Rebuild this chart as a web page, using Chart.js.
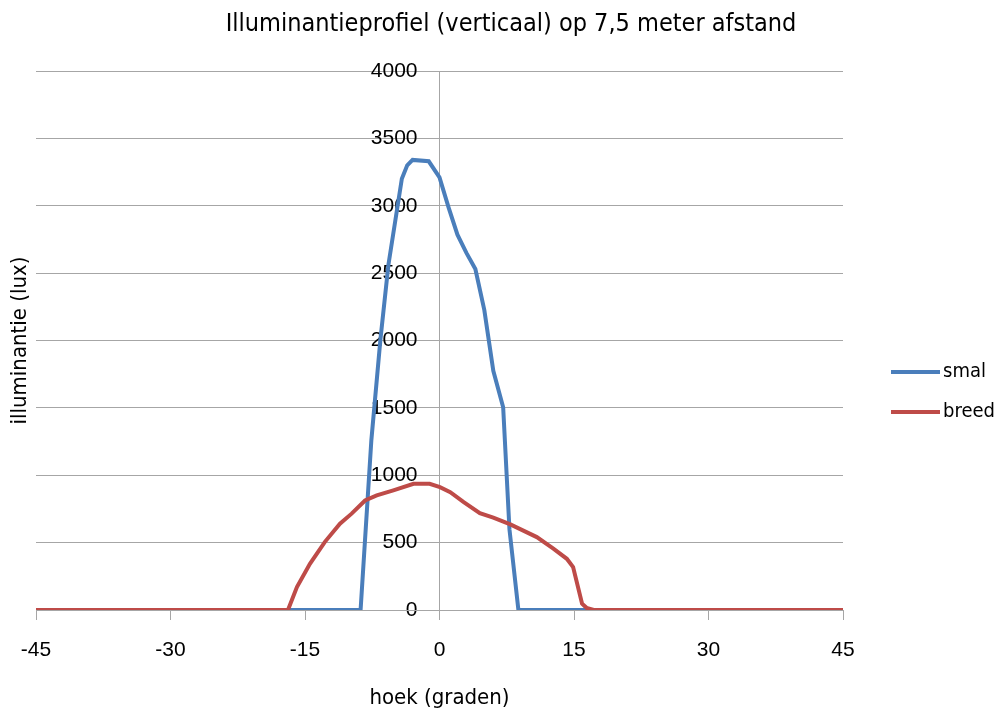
<!DOCTYPE html>
<html>
<head>
<meta charset="utf-8">
<title>Illuminantieprofiel</title>
<script src="https://cdn.jsdelivr.net/npm/chart.js@4/dist/chart.umd.min.js"></script>
<style>
  html, body { margin: 0; padding: 0; background: #fff; }
  #wrap { width: 1003px; height: 713px; }
</style>
</head>
<body>
<div id="wrap"><canvas id="chart" width="1003" height="713"></canvas></div>
<script>
// measured profile, angle in degrees vs. illuminance in lux
const smalAngles = [-45, -8.8, -7.6, -6.6, -5.7, -4.2, -3.6, -3.0, -1.2, 0, 1, 2, 3, 4, 5, 6, 7.1, 7.8, 8.8, 45];
const smalLux    = [0, 0, 1260, 2000, 2560, 3200, 3300, 3340, 3330, 3210, 2990, 2785, 2650, 2530, 2225, 1775, 1505, 600, 0, 0];

const breedAngles = [-45, -16.9, -15.9, -14.45, -12.8, -11.1, -9.8, -8.3, -7.0, -5.15, -2.9, -1.1, 0.05, 1.2, 2.7, 4.5, 6.0, 7.9, 10.85, 12.7, 14.2, 14.9, 15.9, 16.4, 17.2, 45];
const breedLux    = [0, 0, 170, 343, 504, 640, 715, 813, 850, 888, 937, 937, 912, 875, 801, 719, 685, 635, 541, 455, 380, 318, 46, 16, 0, 0];

const seriesNames = ["smal", "breed"];
const seriesColors = ["#4a7ebb", "#be4b48"];

const NARROW = "'Liberation Sans Narrow', 'DejaVu Sans Condensed', sans-serif";
const WIDE = "'Liberation Sans', Arial, sans-serif";
const GRID = "#a6a6a6";

const toPoints = (xs, ys) => xs.map((x, i) => ({ x: x, y: ys[i] }));

// legend block to the right of the plot
const legendPlugin = {
  id: "sideLegend",
  afterDraw(chart) {
    const ctx = chart.ctx;
    const area = chart.chartArea;
    ctx.save();
    chart.data.datasets.forEach((ds, i) => {
      const y = 372 + i * 40;
      ctx.strokeStyle = ds.borderColor;
      ctx.lineWidth = 4;
      ctx.beginPath();
      ctx.moveTo(area.right + 48, y);
      ctx.lineTo(area.right + 97, y);
      ctx.stroke();
      ctx.fillStyle = "#000";
      ctx.font = "20px " + NARROW;
      ctx.textAlign = "left";
      ctx.textBaseline = "middle";
      ctx.fillText(ds.label, area.right + 100, y);
    });
    ctx.restore();
  }
};

// empty side axes only hold the y title and the legend room
const spacerAxis = (position, width, title) => ({
  type: "linear",
  position: position,
  display: true,
  ticks: { display: false },
  grid: { display: false },
  border: { display: false },
  title: title,
  afterFit(scale) { scale.width = width; }
});

new Chart(document.getElementById("chart"), {
  type: "line",
  data: {
    datasets: [
      {
        label: seriesNames[0],
        data: toPoints(smalAngles, smalLux),
        borderColor: seriesColors[0],
        borderWidth: 4,
        pointRadius: 0,
        tension: 0,
        yAxisID: "y",
        order: 1
      },
      {
        label: seriesNames[1],
        data: toPoints(breedAngles, breedLux),
        borderColor: seriesColors[1],
        borderWidth: 4,
        pointRadius: 0,
        tension: 0,
        yAxisID: "y",
        order: 0
      }
    ]
  },
  options: {
    responsive: false,
    animation: false,
    layout: { padding: { left: 0, right: -19, top: 0, bottom: 0 } },
    plugins: {
      legend: { display: false },
      tooltip: { enabled: false },
      title: {
        display: true,
        text: "Illuminantieprofiel (verticaal) op 7,5 meter afstand",
        color: "#000",
        font: { family: NARROW, size: 25, weight: "normal" },
        padding: { top: 9, bottom: 32 }
      }
    },
    scales: {
      y: {
        position: "center",
        min: 0,
        max: 4000,
        ticks: { stepSize: 500, color: "#000", padding: 22, font: { family: WIDE, size: 21 }, callback: (v) => String(v) },
        grid: { color: GRID, drawTicks: false },
        border: { color: GRID }
      },
      x: {
        type: "linear",
        min: -45,
        max: 45,
        ticks: { stepSize: 15, color: "#000", padding: 18, font: { family: WIDE, size: 21 } },
        grid: { drawOnChartArea: false, drawTicks: true, tickLength: 10, color: GRID },
        border: { color: GRID },
        title: {
          display: true,
          text: "hoek (graden)",
          color: "#000",
          font: { family: NARROW, size: 22 },
          padding: { top: 0, bottom: 2 }
        },
        afterFit(scale) { scale.height = 103; }
      },
      yTitle: spacerAxis("left", 36, {
        display: true,
        text: "illuminantie (lux)",
        color: "#000",
        font: { family: NARROW, size: 22 },
        padding: { top: 7, bottom: 0 }
      }),
      yLegend: spacerAxis("right", 179, { display: false })
    }
  },
  plugins: [legendPlugin]
});
</script>
</body>
</html>
